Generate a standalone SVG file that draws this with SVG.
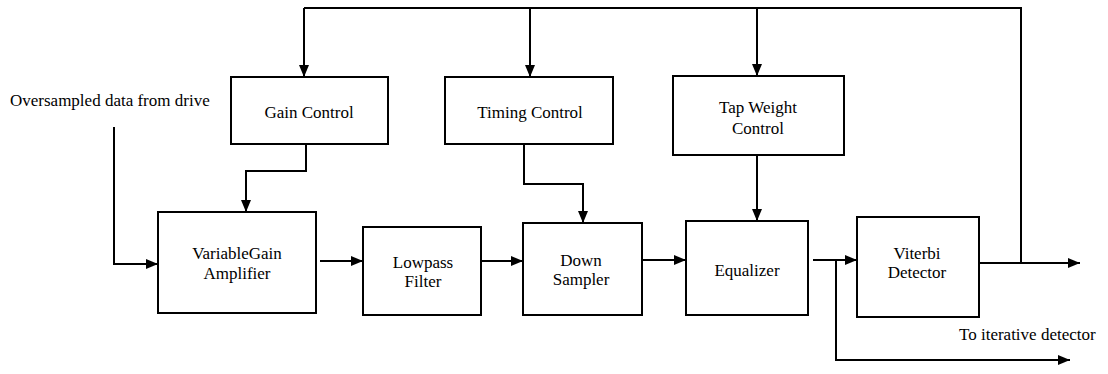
<svg xmlns="http://www.w3.org/2000/svg" width="1108" height="374" viewBox="0 0 1108 374">
  <style>
    .box { fill: #fff; stroke: #000; stroke-width: 2; }
    .wire { fill: none; stroke: #000; stroke-width: 2; }
    .lbl { font-family: "Liberation Serif", "Times New Roman", serif; font-size: 17px; fill: #000; text-anchor: middle; }
    .free { font-family: "Liberation Serif", "Times New Roman", serif; font-size: 17px; fill: #000; }
  </style>
  <defs>
    <marker id="arrow" viewBox="0 0 12 10" refX="12" refY="5" markerWidth="12" markerHeight="10" markerUnits="userSpaceOnUse" orient="auto">
      <path d="M0,0 L12,5 L0,10 Z" fill="#000"/>
    </marker>
  </defs>

  <rect width="1108" height="374" fill="#fff"/>

  <!-- connectors -->
  <g id="connectors" class="wire">
    <!-- feedback bus from detector output to the three control blocks -->
    <path d="M1021,263 V8 H304"/>
    <path d="M304,8 V77" marker-end="url(#arrow)"/>
    <path d="M530,8 V77" marker-end="url(#arrow)"/>
    <path d="M757,8 V76" marker-end="url(#arrow)"/>
    <!-- control outputs -->
    <path d="M306,144 V171 H246 V212" marker-end="url(#arrow)"/>
    <path d="M524,144 V184 H583 V223" marker-end="url(#arrow)"/>
    <path d="M757,155 V221" marker-end="url(#arrow)"/>
    <!-- forward data path -->
    <path d="M114,127 V264 H158" marker-end="url(#arrow)"/>
    <path d="M320,261 H363" marker-end="url(#arrow)"/>
    <path d="M481,261 H523" marker-end="url(#arrow)"/>
    <path d="M642,260 H686" marker-end="url(#arrow)"/>
    <path d="M813,260 H857" marker-end="url(#arrow)"/>
    <path d="M836,260 V360 H1070" marker-end="url(#arrow)"/>
    <path d="M980,263 H1080" marker-end="url(#arrow)"/>
  </g>

  <text class="free" x="10" y="106">Oversampled data from drive</text>
  <text class="free" x="959" y="340">To iterative detector</text>

  <g id="gain-control">
    <rect class="box" x="231" y="77" width="157" height="67"/>
    <text class="lbl" x="309" y="118">Gain Control</text>
  </g>
  <g id="timing-control">
    <rect class="box" x="445" y="77" width="168" height="67"/>
    <text class="lbl" x="530" y="118">Timing Control</text>
  </g>
  <g id="tap-weight-control">
    <rect class="box" x="673" y="76" width="171" height="79"/>
    <text class="lbl" x="758" y="113">Tap Weight</text>
    <text class="lbl" x="758" y="134">Control</text>
  </g>
  <g id="vga">
    <rect class="box" x="158" y="212" width="158" height="101"/>
    <text class="lbl" x="237" y="259">VariableGain</text>
    <text class="lbl" x="237" y="279">Amplifier</text>
  </g>
  <g id="lowpass-filter">
    <rect class="box" x="363" y="227" width="118" height="88"/>
    <text class="lbl" x="423" y="268">Lowpass</text>
    <text class="lbl" x="423" y="287">Filter</text>
  </g>
  <g id="down-sampler">
    <rect class="box" x="523" y="223" width="119" height="92"/>
    <text class="lbl" x="581" y="266">Down</text>
    <text class="lbl" x="581" y="285">Sampler</text>
  </g>
  <g id="equalizer">
    <rect class="box" x="686" y="221" width="122" height="94"/>
    <text class="lbl" x="747" y="276">Equalizer</text>
  </g>
  <g id="viterbi-detector">
    <rect class="box" x="857" y="217" width="122" height="100"/>
    <text class="lbl" x="917" y="259">Viterbi</text>
    <text class="lbl" x="917" y="278">Detector</text>
  </g>
</svg>
